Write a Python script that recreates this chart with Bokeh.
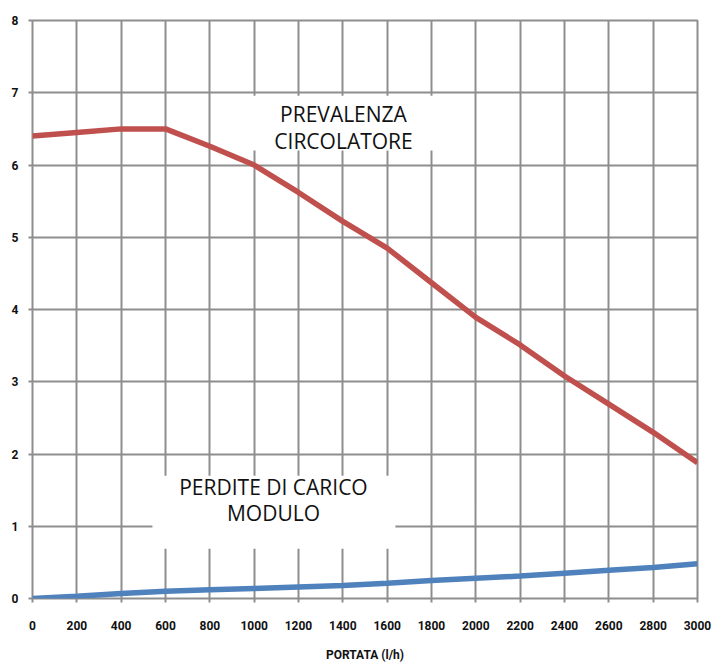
from bokeh.plotting import figure
from bokeh.models import FixedTicker, BoxAnnotation, Label
from bokeh.embed import file_html
from bokeh.resources import INLINE

portata = [0, 200, 400, 600, 800, 1000, 1200, 1400, 1600, 1800, 2000, 2200, 2400, 2600, 2800, 3000]
prevalenza = [6.40, 6.45, 6.50, 6.50, 6.26, 6.00, 5.62, 5.22, 4.85, 4.37, 3.89, 3.51, 3.08, 2.69, 2.30, 1.88]
perdite = [0.00, 0.03, 0.07, 0.10, 0.12, 0.14, 0.16, 0.18, 0.21, 0.25, 0.28, 0.31, 0.35, 0.39, 0.43, 0.48]
x_ticks = list(range(0, 3001, 200))
y_ticks = list(range(0, 9))

GRID = "#8e8e8e"
TICKFONT = "Roboto"
LABELFONT = "Open Sans"

p = figure(width=725, height=664, output_backend="svg", toolbar_location=None,
           x_range=(0, 3000), y_range=(0, 8),
           min_border_left=32, min_border_right=28, min_border_top=20, min_border_bottom=66)

p.outline_line_color = GRID
p.outline_line_width = 2
p.background_fill_color = "white"
p.border_fill_color = "white"

for ax in (p.xaxis[0], p.yaxis[0]):
    ax.axis_line_color = None
    ax.major_tick_line_color = GRID
    ax.major_tick_line_width = 2
    ax.major_tick_out = 4
    ax.major_tick_in = 0
    ax.minor_tick_line_color = None
    ax.major_label_text_font = TICKFONT
    ax.major_label_text_font_style = "bold"
    ax.major_label_text_font_size = "12px"
    ax.major_label_text_color = "#111111"

p.xaxis.ticker = FixedTicker(ticks=x_ticks)
p.yaxis.ticker = FixedTicker(ticks=y_ticks)
p.xaxis.major_label_standoff = 18
p.yaxis.major_label_standoff = 10
p.xaxis.axis_label = "PORTATA (l/h)"
p.xaxis.axis_label_text_font = TICKFONT
p.xaxis.axis_label_text_font_style = "bold"
p.xaxis.axis_label_text_font_size = "12px"
p.xaxis.axis_label_text_color = "#111111"
p.xaxis.axis_label_standoff = 15

p.xgrid.ticker = FixedTicker(ticks=x_ticks)
p.ygrid.ticker = FixedTicker(ticks=y_ticks)
p.grid.grid_line_color = GRID
p.grid.grid_line_width = 2

p.line(portata, prevalenza, line_color="#c0504d", line_width=5.5)
p.line(portata, perdite, line_color="#4f81bd", line_width=5.5)

p.add_layout(BoxAnnotation(left=960, right=1850, bottom=6.2, top=6.96,
                           fill_color="white", fill_alpha=1, line_color=None))
p.add_layout(BoxAnnotation(left=541, right=1637, bottom=0.69, top=1.70,
                           fill_color="white", fill_alpha=1, line_color=None))

def add_text(x, y, t):
    p.add_layout(Label(x=x, y=y, text=t, text_align="center", text_baseline="middle",
                       text_font=LABELFONT, text_font_size="21px", text_color="#111111"))

add_text(1403, 6.71, "PREVALENZA")
add_text(1403, 6.33, "CIRCOLATORE")
add_text(1087, 1.54, "PERDITE DI CARICO")
add_text(1087, 1.18, "MODULO")

open("out.html", "w").write(file_html(p, INLINE))
